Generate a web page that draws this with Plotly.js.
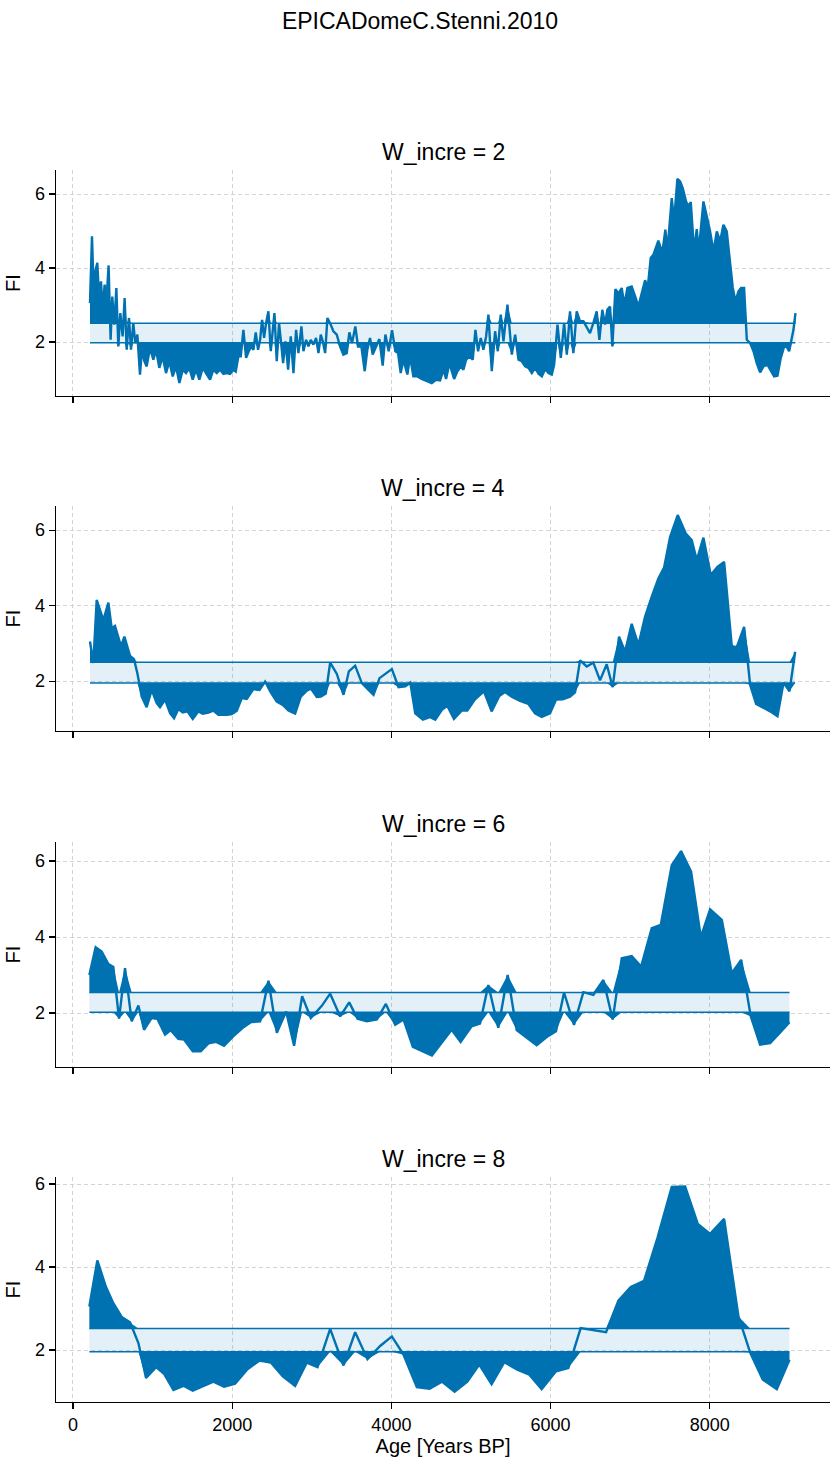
<!DOCTYPE html>
<html>
<head>
<meta charset="utf-8">
<script src="https://cdn.plot.ly/plotly-3.0.1.min.js"></script>
<style>
  body { margin: 0; background: #fff; }
  #chart { width: 840px; height: 1464px; }
</style>
</head>
<body>
<div id="chart"></div>
<script>
// FI series, one pair of arrays per window increment
const age2 = [214,239,256,306,327,352,373,398,419,448,473,494,520,545,570,595,624,649,675,704,
  729,758,783,809,842,867,897,926,968,1010,1043,1085,1127,1169,1211,1253,1295,1337,1379,1420,
  1462,1504,1546,1588,1630,1672,1722,1764,1806,1848,1890,1932,1974,2016,2045,2078,2108,2141,2175,2208,
  2242,2267,2296,2325,2351,2376,2401,2426,2455,2485,2510,2531,2560,2589,2615,2640,2669,2703,2736,2770,
  2803,2832,2870,2895,2929,2958,2987,3021,3054,3084,3113,3138,3168,3197,3230,3272,3314,
  3355,3397,3439,3472,3506,3547,3581,3623,3665,3698,3732,3765,3807,3849,3891,3925,3966,4008,4050,4084,
  4117,4151,4201,4235,4276,4327,4381,4444,4507,4561,4612,4654,4687,4729,4788,4830,4872,4905,4939,4981,
  5022,5056,5089,5123,5156,5190,5219,5261,5303,5337,5374,5408,5458,5513,5555,5597,5638,5680,5722,5764,
  5806,5848,5890,5932,5973,6015,6045,6087,6128,6170,6204,
  6244,6286,6328,6370,6412,6495,6537,6579,6613,6650,6684,6713,6747,6776,6814,6852,6893,6927,6965,7019,
  7069,7103,7145,7187,7220,7258,7292,7325,7354,7384,7409,7442,7467,7522,7551,7593,7627,7660,7702,7731,
  7761,7803,7836,7861,7920,7962,8004,8046,8088,8130,8171,8213,8247,8289,8322,8360,8393,8431,8465,8507,
  8549,8590,8632,8674,8724,8766,8808,8850,8892,8934,8968,8997,9030,9051,9076];
const fi2 = [3.05,4.86,3.68,4.14,3.23,3.64,2.87,3.55,3.05,4.07,2.06,3.23,2.47,3.46,1.88,2.78,2.15,3.19,1.79,2.65,
  1.79,2.51,1.97,2.2,1.12,1.79,1.48,1.34,1.84,1.52,1.79,1.3,1.61,1.16,1.48,1.07,1.34,0.89,1.25,1.16,
  1.3,0.98,1.25,0.98,1.3,1.16,0.98,1.25,1.16,1.25,1.14,1.16,1.14,1.25,1.2,1.61,1.61,2.33,1.57,1.75,
  1.88,1.79,2.26,1.79,2.06,2.6,2.11,2.51,2.83,1.75,2.42,2.78,1.48,2.51,1.97,1.43,2.02,1.25,2.15,1.16,
  2.33,1.7,2.42,1.75,2.06,1.88,2.06,1.93,2.11,1.7,2.2,2.02,1.7,2.65,2.51,2.29,2.2,
  1.88,1.66,1.7,2.26,1.97,2.42,1.88,1.88,1.21,1.79,2.11,1.66,1.88,2.08,1.36,2.2,1.75,2.32,1.75,1.7,
  1.16,1.52,1.12,1.61,1.07,1.07,1.0,0.94,0.89,0.98,0.96,1.25,1.0,1.43,1.0,1.21,1.34,1.25,1.52,1.61,
  1.52,2.33,1.75,2.11,1.79,2.15,2.74,1.21,2.29,1.75,2.74,2.02,3.01,1.66,2.2,1.52,1.48,1.34,1.3,1.16,
  1.3,1.14,1.07,1.27,1.16,1.12,1.39,2.47,1.57,2.51,1.66,
  2.83,1.7,2.83,2.56,2.56,2.24,2.51,2.83,2.06,2.87,2.47,2.87,2.96,1.88,3.43,3.31,3.46,3.01,3.46,3.5,
  3.19,2.96,3.32,3.67,3.46,4.27,4.36,4.54,4.74,4.54,4.5,5.04,4.45,5.89,5.26,6.41,6.34,6.16,5.8,5.67,
  5.78,4.45,5.05,4.45,5.8,5.4,4.99,4.45,4.99,4.72,5.17,4.99,4.32,3.46,3.1,3.37,3.46,3.46,2.06,1.97,
  1.75,1.43,1.18,1.34,1.39,1.21,1.07,1.09,1.57,1.88,1.86,1.75,2.11,2.33,2.78];

const age4 = [214,256,298,382,445,487,528,604,646,717,767,809,864,926,989,1052,1094,1157,1220,1270,
  1324,1379,1438,1505,1576,1630,1702,1764,1827,1932,1995,2058,2121,2183,2267,2343,2414,2485,2560,2636,
  2707,2791,2862,2938,2988,3063,3114,3176,3231,3315,3399,3466,3545,3629,3713,3776,3851,3922,4006,4090,
  4174,4237,4300,4396,4480,4551,4635,4702,4786,4882,4954,5050,5163,5259,5356,5427,5511,5616,5720,5804,
  5888,5993,6068,6152,6244,6307,6370,6454,6537,6621,6705,6780,6860,6935,7019,7103,7187,7271,7354,7426,
  7501,7597,7698,7773,7836,7920,8012,8096,8180,8276,8339,8431,8507,8582,8666,8758,8850,8926,9001,9072];
const fi4 = [3.05,2.48,4.15,3.62,4.08,3.4,3.46,2.92,3.18,2.67,2.58,2.21,1.59,1.31,1.77,1.42,1.31,1.51,1.15,1.02,
  1.26,1.17,1.2,1.0,1.2,1.14,1.17,1.22,1.11,1.11,1.13,1.22,1.55,1.53,1.79,1.77,1.99,1.7,1.46,1.37,
  1.22,1.14,1.59,1.75,1.81,1.58,1.59,1.67,2.49,2.19,1.64,2.26,2.41,1.95,1.77,1.64,2.08,2.19,2.32,1.84,
  1.86,1.96,1.15,0.98,1.05,0.98,1.24,1.35,1.0,1.22,1.22,1.52,1.73,1.2,1.61,1.71,1.59,1.48,1.4,1.15,
  1.05,1.15,1.51,1.52,1.59,1.7,2.55,2.39,2.49,2.02,2.45,1.84,3.18,2.78,3.52,2.96,3.71,4.24,4.72,5.01,
  5.82,6.4,5.91,5.74,5.21,5.8,4.81,5.03,5.16,2.93,2.9,3.44,1.9,1.4,1.31,1.2,1.07,1.96,1.73,2.78];

const age6 = [206,285,361,445,507,579,654,738,822,893,989,1060,1157,1228,1324,1396,1505,1605,1702,1798,
  1898,2016,2133,2234,2351,2456,2561,2678,2778,2879,2988,3126,3231,3357,3470,3575,3692,3818,3931,4048,
  4153,4270,4509,4757,4870,5008,5113,5218,5343,5461,5574,5699,5825,5951,6068,6169,6294,6412,6537,6663,
  6780,6894,7019,7137,7271,7384,7522,7639,7765,7887,8004,8151,8276,8394,8515,8632,8758,8884,9001];
const fi6 = [3.0,3.73,3.62,3.29,3.21,1.85,3.18,1.78,2.2,1.56,1.87,1.85,1.43,1.55,1.32,1.3,0.99,0.99,1.2,1.24,
  1.14,1.39,1.61,1.76,1.78,2.85,1.48,2.04,1.14,2.44,1.87,2.19,2.51,1.91,2.28,1.85,1.78,1.83,2.24,1.69,
  1.83,1.11,0.88,1.56,1.24,1.65,1.72,2.74,1.61,3.0,1.55,1.34,1.15,1.37,1.52,2.54,1.69,2.55,2.48,2.87,
  1.83,3.44,3.5,3.22,4.23,4.32,5.89,6.26,5.72,4.0,4.73,4.45,3.05,3.4,1.91,1.17,1.21,1.49,1.76];

const age8 = [206,306,415,507,612,717,822,918,1044,1144,1262,1387,1505,1639,1764,1898,2037,2192,2343,2485,
  2636,2791,2938,3072,3231,3399,3545,3700,3859,4006,4153,4320,4480,4635,4794,4954,5104,5259,5419,5582,
  5733,5888,6068,6223,6378,6697,6852,7007,7174,7342,7522,7690,7849,8004,8180,8360,8507,8666,8842,9001];
const fi8 = [3.05,4.16,3.52,3.13,2.8,2.67,2.17,1.33,1.59,1.43,1.04,1.14,1.02,1.14,1.24,1.12,1.19,1.54,1.75,1.7,
  1.37,1.14,1.7,1.59,2.51,1.63,2.43,1.78,2.1,2.33,1.89,1.11,1.07,1.24,1.0,1.24,1.65,1.18,1.71,1.53,
  1.41,1.06,1.49,1.57,2.53,2.43,3.19,3.52,3.67,4.7,5.93,5.94,5.04,4.8,5.16,2.81,1.94,1.29,1.06,1.77];

const increments = [2, 4, 6, 8];
const upperBound = [2.51, 2.50, 2.54, 2.52];
const lowerBound = [1.98, 1.95, 2.02, 1.96];

const ages = [age2, age4, age6, age8];
const fis = [fi2, fi4, fi6, fi8];

const blue = '#0072B2';
const H = 1464;
const marginT = 170, marginB = 62;
const plotH = H - marginT - marginB;
// panel tops/bottoms in pixels
const panelPx = [[170, 396], [506, 731], [842, 1067], [1177, 1402]];
const yRanges = [[0.54, 6.65], [0.68, 6.64], [0.58, 6.5], [0.75, 6.17]];

const data = [];
const annotations = [];
const layout = {
  width: 840,
  height: H,
  paper_bgcolor: 'white',
  plot_bgcolor: 'white',
  showlegend: false,
  margin: {l: 56, r: 10, t: marginT, b: marginB},
  font: {family: 'Liberation Sans, Arial, sans-serif', size: 18, color: 'black'},
  title: {
    text: 'EPICADomeC.Stenni.2010',
    x: 0.5, xanchor: 'center',
    y: 1 - 21 / H, yref: 'container', yanchor: 'middle',
    font: {size: 23, color: 'black'}
  },
  annotations: annotations
};

for (let i = 0; i < 4; i++) {
  const sfx = i === 0 ? '' : String(i + 1);
  const xa = 'x' + sfx, ya = 'y' + sfx;
  const x = ages[i], y = fis[i];
  const up = upperBound[i], lo = lowerBound[i];
  const ends = [x[0], x[x.length - 1]];
  const common = {xaxis: xa, yaxis: ya, type: 'scatter', mode: 'lines', hoverinfo: 'skip'};

  // band between thresholds
  data.push(Object.assign({}, common, {x: ends, y: [lo, lo], line: {color: blue, width: 1.5}}));
  data.push(Object.assign({}, common, {x: ends, y: [up, up], line: {color: blue, width: 1.5},
    fill: 'tonexty', fillcolor: 'rgba(0,114,178,0.11)'}));
  // above upper threshold
  data.push(Object.assign({}, common, {x: x, y: x.map(() => up), line: {width: 0, color: blue}}));
  data.push(Object.assign({}, common, {x: x, y: y.map(v => Math.max(v, up)), line: {width: 0, color: blue},
    fill: 'tonexty', fillcolor: blue}));
  // below lower threshold
  data.push(Object.assign({}, common, {x: x, y: x.map(() => lo), line: {width: 0, color: blue}}));
  data.push(Object.assign({}, common, {x: x, y: y.map(v => Math.min(v, lo)), line: {width: 0, color: blue},
    fill: 'tonexty', fillcolor: blue}));
  // FI line
  data.push(Object.assign({}, common, {x: x, y: y, line: {color: blue, width: 2.4}}));

  const top = panelPx[i][0], bot = panelPx[i][1];
  const dom = [(H - marginB - bot) / plotH, (H - marginB - top) / plotH];

  layout['xaxis' + sfx] = {
    anchor: ya,
    domain: [0, 1],
    range: [-213, 9510],
    tickvals: [0, 2000, 4000, 6000, 8000],
    showticklabels: i === 3,
    ticks: 'outside', ticklen: 6, tickwidth: 1.3, tickcolor: 'black',
    showline: true, linecolor: 'black', linewidth: 1.3,
    showgrid: true, gridcolor: '#d3d3d3', griddash: '4px,3px', gridwidth: 1,
    zeroline: false,
    tickfont: {size: 18},
    title: i === 3 ? {text: 'Age [Years BP]', font: {size: 20}, standoff: 3} : {text: ''}
  };
  if (i > 0) layout['xaxis' + sfx].matches = 'x';

  layout['yaxis' + sfx] = {
    anchor: xa,
    domain: dom,
    range: yRanges[i],
    tickvals: [2, 4, 6],
    ticks: 'outside', ticklen: 6, tickwidth: 1.3, tickcolor: 'black',
    showline: true, linecolor: 'black', linewidth: 1.3,
    showgrid: true, gridcolor: '#d3d3d3', griddash: '4px,3px', gridwidth: 1,
    zeroline: false,
    tickfont: {size: 18},
    title: {text: 'FI', font: {size: 20}, standoff: 9}
  };

  annotations.push({
    text: 'W_incre = ' + increments[i],
    xref: 'paper', yref: 'paper',
    x: 0.5, y: dom[1], xanchor: 'center', yanchor: 'bottom', yshift: 3,
    showarrow: false,
    font: {size: 23, color: 'black'}
  });
}

Plotly.newPlot('chart', data, layout, {staticPlot: true});
</script>
</body>
</html>
